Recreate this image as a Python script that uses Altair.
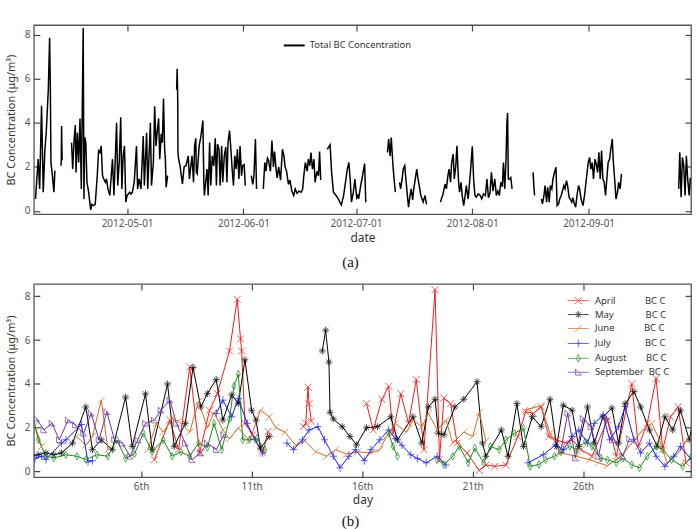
import altair as alt
import pandas as pd

FONT = "Noto Sans"

# ---- hourly-ish BC readings, by month: fractional day of month and concentration (None = no data)
april_day = [6.6, 7.3, 7.7, 8.2, 8.65, 9.1, 9.45, 10.0, 10.35, 10.5, 10.55, 10.7, 11.05, 11.5, 11.75,
             12.5,
             13.35, 13.45, 13.55, 13.6, 13.7,
             15.0,
             16.2, 16.5, 16.9, 17.2, 17.4, 17.75, 18.1, 18.45, 18.8, 19.3, 19.5, 19.7, 20.0, 20.3, 20.75,
             21.3, 21.6, 22.0, 22.5, 23.05, 23.4, 23.75, 24.1, 24.45, 24.8, 25.2, 25.5, 25.9, 26.4,
             27.1, 27.5, 28.2, 28.5, 28.9, 29.3, 29.6, 29.95, 30.3, 30.65]
april_bc = [0.54, 2.35, 1.0, 4.77, 0.85, 2.8, 3.56, 5.5, 7.86, 6.05, 5.5, 2.2, 1.68, 0.85, 1.83,
            None,
            2.05, 2.2, 3.85, 3.1, 2.3,
            None,
            3.1, 1.9, 3.3, 3.9, 1.75, 3.55, 2.2, 4.2, 1.0, 8.3, 0.54, 3.35, 3.1, 1.3, 0.85,
            0.05, 0.3, 0.24, 0.3, 1.6, 2.73, 2.65, 2.95, 1.6, 1.45, 1.3, 1.45, 1.0, 0.7,
            2.35, 0.7, 4.0, 1.15, 2.2, 4.25, 1.0, 2.5, 2.95, 0.4]

may_day = [1.0, 1.35, 1.7, 2.05, 2.4, 2.9, 3.5, 3.8, 4.2, 4.7,
           5.3, 5.6, 6.2, 6.5, 7.2, 7.5, 8.0, 8.35, 8.7, 9.0,
           9.4, 9.7, 10.1, 10.4, 10.7, 11.0, 11.2, 11.4, 11.8,
           13.0,
           14.2, 14.35, 14.5, 14.55, 14.7, 15.1, 15.45, 15.75, 16.2, 16.7,
           17.3, 17.6, 18.3, 18.7, 19.0, 19.3, 19.45, 19.7, 20.2, 20.6,
           21.2, 21.45, 21.6, 22.3, 22.6, 23.0, 23.3, 23.7, 24.1, 24.5,
           24.8, 25.1, 25.5, 25.8, 26.2, 26.5, 26.9, 27.3, 27.6, 27.9,
           28.3, 28.6, 29.0, 29.35, 29.7, 30.05, 30.4, 30.8, 31.1, 31.5, 31.8]
may_bc = [0.7, 0.77, 0.85, 0.77, 0.85, 1.3, 2.95, 1.0, 1.45, 1.0,
          3.4, 1.15, 3.55, 1.0, 4.0, 1.15, 2.2, 4.75, 2.95, 3.56,
          4.2, 2.35, 3.5, 3.1, 5.1, 2.8, 2.35, 1.07, 1.6,
          None,
          5.5, 6.45, 5.0, 2.7, 2.4, 2.05, 1.6, 1.22, 2.0, 2.05,
          2.5, 1.45, 2.5, 1.3, 2.95, 3.3, 1.75, 1.68, 2.95, 3.3,
          4.1, 1.3, 0.7, 1.9, 0.7, 3.1, 1.15, 2.5, 2.05, 3.3,
          1.15, 3.03, 2.8, 1.15, 2.95, 1.3, 2.5, 2.9, 1.3, 3.1,
          3.65, 2.95, 1.9, 1.15, 2.5, 1.9, 2.8, 1.45, 2.95, 1.6, 2.05]

june_day = [1.2, 1.5, 2.3, 3.1, 3.5, 3.8, 4.2, 4.5, 5.4, 6.3,
            6.7, 7.0, 7.4, 7.7, 8.2, 8.6, 9.0, 9.3, 9.7, 10.0,
            10.4, 10.9,
            11.4, 11.8, 12.1, 12.5, 13.0, 13.4, 13.9, 14.4, 14.8, 15.3,
            15.8, 16.4, 16.8, 17.1, 17.5, 18.0, 18.3, 18.7, 19.0, 19.4,
            19.8,
            20.1, 20.6, 21.0, 21.3, 21.6, 22.5, 23.35, 23.7, 24.1, 24.5,
            25.0, 25.7, 26.3, 26.7, 27.1, 27.7, 28.2, 28.7, 29.1, 29.45,
            29.8, 30.3, 30.7]
june_bc = [2.1, 1.15, None, 1.6, 1.2, 1.6, 3.26, 1.0, None, 1.0,
           2.2, 1.8, 2.4, 2.3, 1.8, 3.2, 2.0, 2.7, 1.9, 1.5,
           2.0, 1.4,
           2.8, 2.5, 2.0, 1.8, 1.2, 1.4, 0.9, 0.7, 1.0, 0.8,
           0.9, 0.85, 1.0, 1.6, 2.2, 1.8, 2.35, 2.05, 2.65, 1.9,
           2.35,
           1.3, 1.8, 1.6, 2.7, 1.4, None, 2.8, 2.9, 3.0, 1.75,
           0.85, 0.7, 0.54, 0.4, 0.27, 0.7, 1.3, 1.9, 2.2, 1.45,
           0.4, 0.85, 1.45]

july_day = [1.2, 1.5, 1.7, 2.4, 2.6, 3.3, 3.6, 3.8, 6.5, 9.4,
            9.7, 10.1, 10.4, 10.8, 11.15, 11.5, 12.0,
            12.6, 12.9, 13.3, 13.6, 14.0, 14.3, 14.7, 15.0, 15.4, 15.7,
            16.1, 16.4, 16.8, 17.2, 17.5, 17.8, 18.2, 18.5, 18.9, 19.4,
            19.8,
            21.5, 23.5, 24.2, 24.75, 25.1, 25.5, 25.8, 26.2, 26.5, 26.9,
            27.2, 27.6, 27.9, 28.3, 28.6, 29.0, 29.3, 29.7, 30.1, 30.4,
            30.9, 31.5]
july_bc = [0.6, 0.7, 0.55, 1.3, 1.45, 2.15, 0.45, 0.5, None, 2.65,
           3.26, 2.5, 3.33, 2.2, 1.45, 0.85, None,
           1.3, 1.0, 1.45, 1.9, 2.05, 1.45, 0.7, 0.17, 0.7, 1.0,
           0.5, 1.0, 1.45, 1.9, 1.5, 1.2, 0.77, 0.6, 0.4, 0.7,
           0.3,
           None, 0.4, 0.77, 1.22, 1.0, 1.6, 1.9, 1.3, 2.2, 2.58,
           1.45, 2.05, 2.96, 1.45, 0.85, 1.3, 0.7, 0.24, 0.7, 1.15,
           0.54, 1.75]

august_day = [1.0, 1.35, 1.7, 2.05, 2.6, 3.1, 3.5, 4.0, 4.5, 4.9,
              5.3, 5.7, 6.1, 6.5, 7.0, 7.4, 7.8, 8.2, 8.6, 9.0,
              9.3, 9.65, 10.0, 10.2, 10.4, 10.6, 10.9, 11.25, 11.6,
              14.0, 17.2, 17.4, 17.6, 18.5,
              19.4, 19.7, 20.1, 20.4, 20.8, 21.1, 21.5, 21.8, 22.2, 22.5,
              22.9, 23.3, 23.6, 24.0, 24.3, 24.7, 25.0, 25.4, 25.7, 26.1,
              26.4, 26.8,
              27.1, 27.5, 27.8, 28.2, 28.55, 28.9, 29.3, 29.6, 30.0, 30.5,
              30.9, 31.4, 31.9]
august_bc = [2.93, 1.45, 0.7, 0.62, 0.77, 0.7, 0.55, 0.77, 0.7, 1.45,
             0.6, 0.8, 1.75, 0.9, 1.45, 0.7, 0.9, 0.7, 1.3, 1.1,
             2.2, 1.0, 2.4, 3.9, 4.45, 1.45, 1.45, 1.52, 1.0,
             None, 1.75, 1.15, 0.7, None,
             0.54, 0.32, 0.7, 1.15, 0.4, 1.07, 0.4, 1.15, 1.0, 1.45,
             1.75, 1.98, 0.24, 0.32, 0.54, 0.7, 0.9, 1.15, 1.0, 1.37,
             1.15, 0.62,
             0.54, 0.4, 0.6, 0.32, 0.17, 0.7, 1.15, 1.0, 0.54, 0.24,
             0.7, 1.45, 2.2]

september_day = [1.26, 1.6, 1.97, 2.3, 2.7, 3.03, 3.4, 3.74, 4.1, 4.45,
                 4.8, 5.15, 5.5, 5.85, 6.2, 6.6, 6.9, 7.3, 7.6, 8.0,
                 8.3, 8.7, 9.0, 9.4, 9.75,
                 17.0, 25.0, 25.3, 25.65, 26.0, 26.35, 26.7, 27.05, 27.4, 27.8, 28.1]
september_bc = [2.43, 1.9, 2.2, 1.45, 2.35, 2.13, 1.75, 2.66, 1.45, 2.73,
                1.45, 1.3, 0.7, 1.45, 2.2, 2.35, 2.8, 3.26, 2.2, 1.3,
                0.54, 0.85, 1.3, 1.0, 1.68,
                None, 1.0, 2.66, 0.62, 2.43, 2.05, 0.7, 2.5, 1.45, 0.7, 1.5]

months = ["April", "May", "June", "July", "August", "September"]
month_numbers = [4, 5, 6, 7, 8, 9]
month_colors = ["#f21a1a", "#000000", "#d2691e", "#1a1af0", "#168a16", "#7030a0"]
series = [(april_day, april_bc), (may_day, may_bc), (june_day, june_bc),
          (july_day, july_bc), (august_day, august_bc), (september_day, september_bc)]

# marker glyphs (unit paths) and their legend versions with a line through them
marker_paths = [
    "M-1,-1L1,1M-1,1L1,-1",
    "M-1,0L1,0M0,-1L0,1M-0.7,-0.7L0.7,0.7M-0.7,0.7L0.7,-0.7",
    "M-1,1L1,-1",
    "M-1,0L1,0M0,-1.1L0,1.1",
    "M0,-1.1L0.55,0L0,1.1L-0.55,0Z",
    "M-0.8,-0.9L-0.8,0.8L0.9,0.8Z",
]
legend_paths = ["M-3,0L3,0" + p for p in marker_paths]
legend_labels = [
    "April" + "\u00a0" * 12 + "BC C",
    "May" + "\u00a0" * 13 + "BC C",
    "June" + "\u00a0" * 12 + "BC C",
    "July" + "\u00a0" * 14 + "BC C",
    "August" + "\u00a0" * 8 + "BC C",
    "September" + "\u00a0" * 2 + "BC C",
]

rows = []
for name, num, (days, values) in zip(months, month_numbers, series):
    for d, v in zip(days, values):
        stamp = pd.Timestamp(2012, num, 1) + pd.Timedelta(days=d - 1)
        rows.append({"month": name, "day": d, "bc": v,
                     "date": stamp.strftime("%Y-%m-%dT%H:%M:%S")})
data = pd.DataFrame(rows)

y_title = "BC Concentration (\u03bcg/m\u00b3)"
bc_ticks = [0, 2, 4, 6, 8]
day_ticks = [6, 11, 16, 21, 26]
month_ticks = [alt.DateTime(year=2012, month=m, date=1) for m in (5, 6, 7, 8, 9)]

tick_style = dict(domain=False, grid=False, tickSize=6, tickWidth=1.2, tickColor="#444",
                  offset=-6, labelFont=FONT, labelFontSize=10, labelColor="#555",
                  labelPadding=4, titleFont=FONT, titleColor="#333", titleFontWeight="normal")
mirror_style = dict(domain=False, grid=False, tickSize=6, tickWidth=1.2, tickColor="#444",
                    offset=-6, labels=False, title=None)


def caption(text, offset):
    return alt.TitleParams(text, orient="bottom", font="Liberation Serif", fontSize=15,
                           fontWeight="normal", color="#111", dx=-12, offset=offset)


# ---- (a) whole campaign as one time series
date_scale = alt.Scale(domain=[alt.DateTime(year=2012, month=4, date=6, hours=3, minutes=36),
                               alt.DateTime(year=2012, month=9, date=28, hours=7)])
bc_scale_a = alt.Scale(domain=[-0.15, 8.44], nice=False, zero=False)

total = alt.Chart(data).transform_calculate(series="'Total BC Concentration'")

line_a = total.mark_line(strokeWidth=1.5, clip=True).encode(
    x=alt.X("date:T", scale=date_scale,
            axis=alt.Axis(orient="bottom", values=month_ticks, format="%Y-%m-%d",
                          title="date", titleFontSize=12, titlePadding=4, **tick_style)),
    y=alt.Y("bc:Q", scale=bc_scale_a,
            axis=alt.Axis(orient="left", values=bc_ticks, title=y_title,
                          titleFontSize=11, titlePadding=8, **tick_style)),
    color=alt.Color("series:N", scale=alt.Scale(range=["#000000"]),
                    legend=alt.Legend(orient="none", legendX=250, legendY=9, title=None,
                                      symbolType="stroke", symbolSize=441, symbolStrokeWidth=2,
                                      labelOffset=4, labelFont=FONT, labelFontSize=9.5,
                                      labelColor="#333", padding=0)),
)
frame_a = total.mark_line(opacity=0, clip=True).encode(
    x=alt.X("date:T", scale=date_scale,
            axis=alt.Axis(orient="top", values=month_ticks, **mirror_style)),
    y=alt.Y("bc:Q", scale=bc_scale_a,
            axis=alt.Axis(orient="right", values=bc_ticks, **mirror_style)),
)
panel_a = alt.layer(line_a, frame_a).properties(width=660, height=190,
                                                title=caption("(a)", 12))

# ---- (b) the same readings laid over day of month
day_scale = alt.Scale(domain=[1.15, 30.88], nice=False, zero=False)
bc_scale_b = alt.Scale(domain=[-0.25, 8.56], nice=False, zero=False)
month_color = alt.Scale(domain=months, range=month_colors)

by_day = alt.Chart(data)

lines_b = by_day.mark_line(strokeWidth=1, clip=True).encode(
    x=alt.X("day:Q", scale=day_scale,
            axis=alt.Axis(orient="bottom", values=day_ticks, labelExpr="datum.value + 'th'",
                          title="day", titleFontSize=12, titlePadding=4, **tick_style)),
    y=alt.Y("bc:Q", scale=bc_scale_b,
            axis=alt.Axis(orient="left", values=bc_ticks, title=y_title,
                          titleFontSize=11, titlePadding=8, **tick_style)),
    color=alt.Color("month:N", scale=month_color, legend=None),
)
points_b = by_day.transform_filter("isValid(datum.bc)").mark_point(
    filled=False, size=49, strokeWidth=1, clip=True).encode(
    x=alt.X("day:Q", scale=day_scale, axis=None),
    y=alt.Y("bc:Q", scale=bc_scale_b, axis=None),
    color=alt.Color("month:N", scale=month_color, legend=None),
    shape=alt.Shape("month:N", scale=alt.Scale(domain=months, range=marker_paths), legend=None),
)
frame_b = by_day.transform_filter("isValid(datum.bc)").mark_point(opacity=0, clip=True).encode(
    x=alt.X("day:Q", scale=day_scale,
            axis=alt.Axis(orient="top", values=day_ticks, **mirror_style)),
    y=alt.Y("bc:Q", scale=bc_scale_b,
            axis=alt.Axis(orient="right", values=bc_ticks, **mirror_style)),
)
key_legend = alt.Legend(orient="none", legendX=542, legendY=12, title=None,
                        labelFont=FONT, labelFontSize=9.5, labelColor="#333",
                        symbolSize=49, symbolStrokeWidth=1, labelOffset=12,
                        rowPadding=2, padding=0)
legend_b = alt.Chart(data).transform_filter("false").mark_point(
    filled=False, size=49, strokeWidth=1).encode(
    x=alt.X("day:Q", scale=day_scale, axis=None),
    y=alt.Y("bc:Q", scale=bc_scale_b, axis=None),
    color=alt.Color("key:N", scale=alt.Scale(domain=legend_labels, range=month_colors),
                    legend=key_legend),
    shape=alt.Shape("key:N", scale=alt.Scale(domain=legend_labels, range=legend_paths),
                    legend=key_legend),
)
panel_b = alt.layer(lines_b, points_b, frame_b, legend_b).resolve_scale(
    color="independent", shape="independent"
).properties(width=660, height=194, title=caption("(b)", 8))

chart = alt.vconcat(panel_a, panel_b, spacing=11).properties(
    padding={"left": 4, "top": 22, "right": 3, "bottom": 0},
    background="white",
).configure_view(stroke="#555", strokeWidth=1.3)

chart.save("out.html", embed_options={"renderer": "svg", "actions": False})
